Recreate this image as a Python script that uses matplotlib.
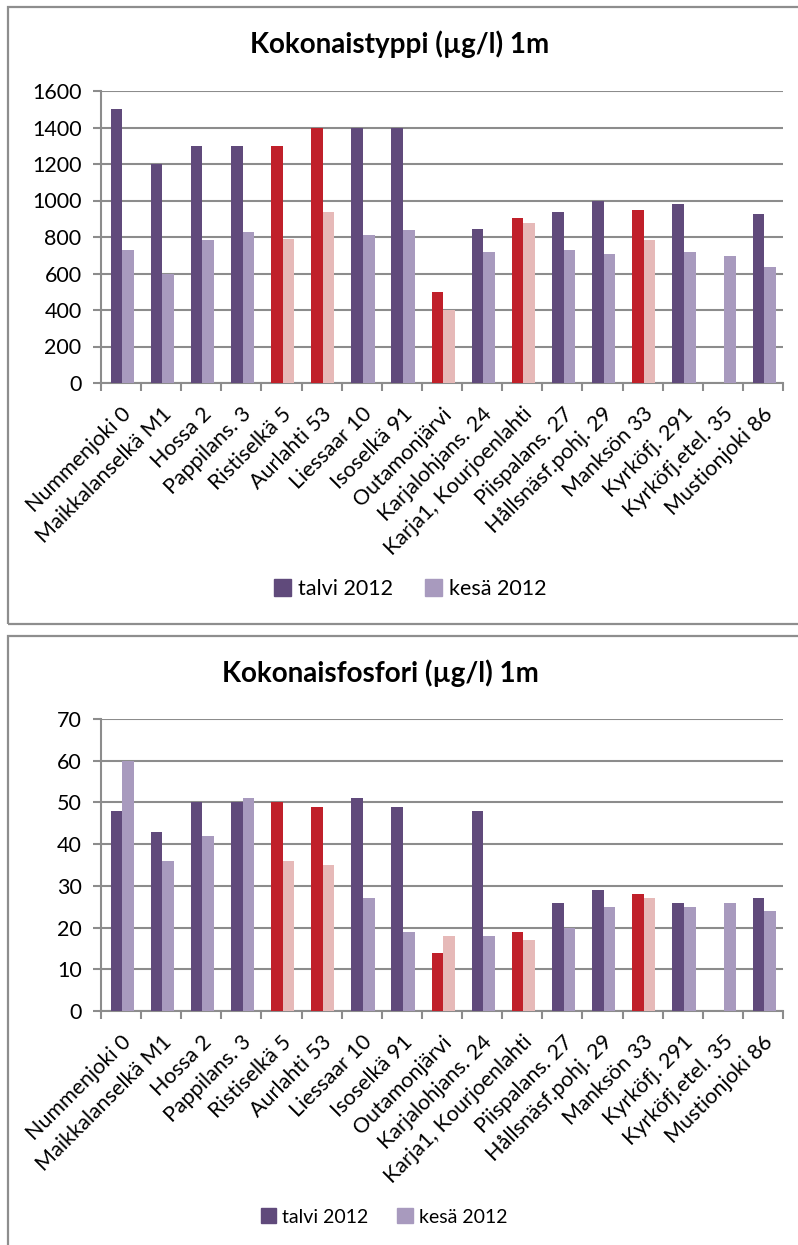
import numpy as np
import matplotlib.pyplot as plt
from matplotlib.patches import Patch, Rectangle

plt.rcParams['font.family'] = ['Lato', 'DejaVu Sans']

# sampling sites and the ones drawn in red
sites = ['Nummenjoki 0', 'Maikkalanselkä M1', 'Hossa 2', 'Pappilans. 3', 'Ristiselkä 5',
         'Aurlahti 53', 'Liessaar 10', 'Isoselkä 91', 'Outamonjärvi', 'Karjalohjans. 24',
         'Karja1, Kourjoenlahti', 'Piispalans. 27', 'Hållsnäsf.pohj. 29', 'Manksön 33',
         'Kyrköfj. 291', 'Kyrköfj.etel. 35', 'Mustionjoki 86']
red_sites = ['Ristiselkä 5', 'Aurlahti 53', 'Outamonjärvi', 'Karja1, Kourjoenlahti', 'Manksön 33']

# total nitrogen (ug/l)
typpi_talvi = [1500, 1200, 1300, 1300, 1300, 1400, 1400, 1400, 500, 845, 905, 936, 1000, 950, 982, np.nan, 928]
typpi_kesa = [730, 600, 785, 830, 790, 935, 810, 840, 402, 718, 878, 730, 708, 785, 716, 698, 636]

# total phosphorus (ug/l)
fosfori_talvi = [48, 43, 50, 50, 50, 49, 51, 49, 14, 48, 19, 26, 29, 28, 26, np.nan, 27]
fosfori_kesa = [60, 36, 42, 51, 36, 35, 27, 19, 18, 18, 17, 20, 25, 27, 25, 26, 24]

DARK = '#604A7B'
LIGHT = '#A89ABE'
RED = '#C0202A'
PINK = '#E6B9B8'
GRID = '#8C8C8C'

W, H = 798, 1245
fig = plt.figure(figsize=(W / 100, H / 100), dpi=100)


def fx(px):
    return px / W


def fy(py):
    return 1 - py / H


# chart frames (cropped on the right / bottom like the screenshot)
for top, bot in [(7, 624), (636, 1260)]:
    fig.patches.append(Rectangle((fx(8), fy(bot)), fx(820) - fx(8), fy(top) - fy(bot),
                                 transform=fig.transFigure, fill=False,
                                 edgecolor='#8E8E8E', linewidth=1.6, clip_on=False))


def draw(ax_top, ax_bot, talvi, kesa, ymax, step):
    ax = fig.add_axes([fx(101), fy(ax_bot), fx(783) - fx(101), fy(ax_top) - fy(ax_bot)])
    x = np.arange(len(sites))
    bw = 0.29
    c1 = [RED if s in red_sites else DARK for s in sites]
    c2 = [PINK if s in red_sites else LIGHT for s in sites]
    ax.bar(x - bw / 2 + 0.03, talvi, bw, color=c1, zorder=3)
    ax.bar(x + bw / 2 + 0.03, kesa, bw, color=c2, zorder=3)
    ax.set_xlim(-0.5, len(sites) - 0.5)
    ax.set_ylim(0, ymax)
    ax.set_yticks(np.arange(0, ymax + 1, step))
    ax.yaxis.grid(True, color=GRID, linewidth=1.5, zorder=0)
    ax.set_axisbelow(True)
    for s in ['top', 'right']:
        ax.spines[s].set_visible(False)
    for s in ['left', 'bottom']:
        ax.spines[s].set_color(GRID)
        ax.spines[s].set_linewidth(1.5)
    ax.set_xticks(np.arange(-0.5, len(sites), 1))
    ax.set_xticklabels([])
    ax.set_xticks(x, minor=True)
    ax.set_xticklabels(sites, minor=True, rotation=45, ha='right', rotation_mode='anchor',
                       fontsize=15.5)
    ax.tick_params(axis='x', which='minor', length=0, pad=15)
    ax.tick_params(axis='x', which='major', length=6, width=1.5, color=GRID)
    ax.tick_params(axis='y', length=6, width=1.5, color=GRID, labelsize=15.5, pad=8)
    return ax


draw(91, 383, typpi_talvi, typpi_kesa, 1600, 200)
draw(719, 1011, fosfori_talvi, fosfori_kesa, 70, 10)

fig.text(fx(400), fy(53), 'Kokonaistyppi (µg/l) 1m', ha='center', va='baseline',
         fontsize=20, fontweight='bold')
fig.text(fx(380), fy(682), 'Kokonaisfosfori (µg/l) 1m', ha='center', va='baseline',
         fontsize=20, fontweight='bold')

handles = [Patch(color=DARK, label='talvi 2012'), Patch(color=LIGHT, label='kesä 2012')]
for yc, fs, xc in [(589, 15.5, 410), (1217, 14, 384)]:
    fig.legend(handles=handles, loc='center', bbox_to_anchor=(fx(xc), fy(yc)), ncol=2,
               frameon=False, fontsize=fs, handlelength=0.8, handleheight=0.8,
               handletextpad=0.3, columnspacing=1.5)

fig.savefig('out.png', dpi=100)
